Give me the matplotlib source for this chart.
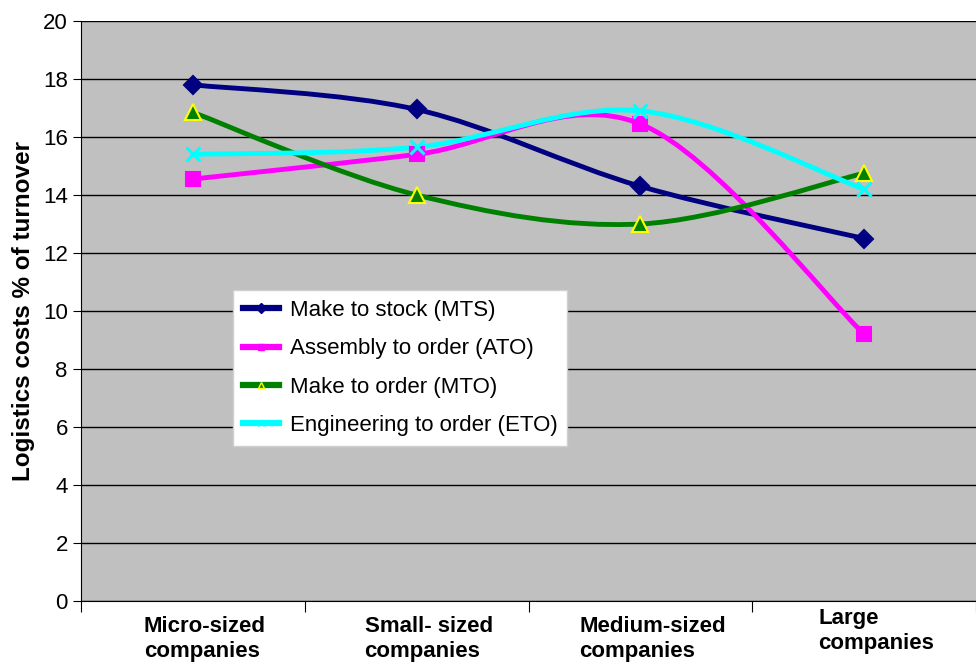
import matplotlib
matplotlib.use("Agg")
from matplotlib import pyplot as plt
from matplotlib.path import Path
from matplotlib.patches import PathPatch
from matplotlib.lines import Line2D
from matplotlib.transforms import ScaledTranslation
import numpy as np

# data
categories = ["Micro-sized\ncompanies", "Small- sized\ncompanies",
              "Medium-sized\ncompanies", "Large\ncompanies"]
mts = [17.8, 16.95, 14.3, 12.5]
ato = [14.55, 15.4, 16.45, 9.2]
mto = [16.85, 14.0, 13.0, 14.75]
eto = [15.4, 15.65, 16.9, 14.2]

series = [
    ("Make to stock (MTS)", mts, "#000080", "D", "#000080", "#000080"),
    ("Assembly to order (ATO)", ato, "#FF00FF", "s", "#FF00FF", "#FF00FF"),
    ("Make to order (MTO)", mto, "#008000", "^", "#008000", "#FFFF00"),
    ("Engineering to order (ETO)", eto, "#00FFFF", "x", "#00FFFF", "#00FFFF"),
]

plt.rcParams["font.family"] = ["Liberation Sans", "DejaVu Sans"]


def smooth_path(xs, ys):
    # excel-like smoothed line: cubic bezier through the points
    pts = np.column_stack([xs, ys])
    n = len(pts)
    verts = [pts[0]]
    codes = [Path.MOVETO]
    for i in range(n - 1):
        p0 = pts[max(i - 1, 0)]
        p1 = pts[i]
        p2 = pts[i + 1]
        p3 = pts[min(i + 2, n - 1)]
        c1 = p1 + (p2 - p0) / 6
        c2 = p2 - (p3 - p1) / 6
        verts += [c1, c2, p2]
        codes += [Path.CURVE4] * 3
    return Path(verts, codes)


fig = plt.figure(figsize=(9.76, 6.66), dpi=100)
ax = fig.add_axes([81 / 976, 1 - 601 / 666, 1 - 81 / 976, 580 / 666])
ax.set_facecolor("#C0C0C0")

x = np.arange(1, len(categories) + 1)
handles = []
for label, vals, color, marker, mfc, mec in series:
    ax.add_patch(PathPatch(smooth_path(x, vals), facecolor="none",
                           edgecolor=color, lw=3.5, zorder=3,
                           capstyle="round", joinstyle="round"))
    ms = {"D": 9, "s": 10, "^": 11, "x": 10}[marker]
    mew = 2.2 if marker == "x" else 1.5
    ax.plot(x, vals, linestyle="none", marker=marker, markersize=ms,
            markerfacecolor=mfc, markeredgecolor=mec, markeredgewidth=mew,
            zorder=4)
    handles.append(Line2D([], [], color=color, lw=4.5, marker=marker,
                          markersize=5, markerfacecolor=mfc,
                          markeredgecolor=mec, label=label))

ax.set_ylim(0, 20)
ax.set_yticks(range(0, 21, 2))
ax.set_xlim(0.5, 0.5 + (976 - 81) / 225)
ax.yaxis.grid(True, color="black", lw=1)
ax.set_axisbelow(True)

ax.set_xticks(np.arange(0.5, len(categories) + 1, 1))
ax.set_xticklabels([])
ax.set_xticks(x, minor=True)
ax.set_xticklabels(categories, minor=True, fontsize=16, fontweight="bold",
                   multialignment="left", linespacing=1.22)
ax.tick_params(axis="x", which="minor", length=0, pad=11)
ax.tick_params(axis="x", which="major", length=8, direction="out")
ax.tick_params(axis="y", labelsize=16, length=6, direction="out")

# shift category labels a little to the right, "Large" a bit up
for i, t in enumerate(ax.get_xticklabels(minor=True)):
    dy = 8 / 100 if i == len(categories) - 1 else 0
    t.set_transform(t.get_transform() +
                    ScaledTranslation(12 / 100, dy, fig.dpi_scale_trans))

for s in ["top", "right"]:
    ax.spines[s].set_visible(False)
ax.spines["left"].set_color("black")
ax.spines["bottom"].set_color("black")

ax.set_ylabel("Logistics costs % of turnover", fontsize=17.5,
              fontweight="bold", labelpad=6)

leg = fig.legend(handles=handles, loc="upper left",
                 bbox_to_anchor=(233 / 976, 1 - 290 / 666),
                 frameon=True, fancybox=False, fontsize=16,
                 handlelength=1.6, handletextpad=0.5, labelspacing=0.78,
                 borderaxespad=0, borderpad=0.45)
leg.get_frame().set_edgecolor("#D0D0D0")
leg.get_frame().set_facecolor("white")
leg.get_frame().set_alpha(1)

fig.savefig("out.png", dpi=100)
